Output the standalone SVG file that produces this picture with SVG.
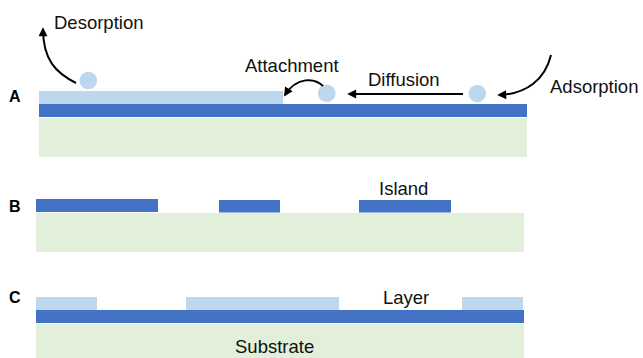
<svg xmlns="http://www.w3.org/2000/svg" width="643" height="358" viewBox="0 0 643 358">
<style>
.dark{fill:#4472C4}
.light{fill:#BDD7EE}
.sub{fill:#E2EFDA}
.atom{fill:#BDD7EE}
.lbl{font-family:"Liberation Sans",Arial,sans-serif;font-size:18.5px;fill:#111}
.pl{font-family:"Liberation Sans",Arial,sans-serif;font-size:16px;font-weight:bold;fill:#000}
.arr{fill:none;stroke:#000;stroke-width:2;marker-end:url(#ah)}
</style>
<defs>
<marker id="ah" viewBox="0 0 10 10" refX="8" refY="5" markerWidth="10" markerHeight="9" markerUnits="userSpaceOnUse" orient="auto">
<path d="M0 0 L10 5 L0 10 z" fill="#000"/>
</marker>
</defs>
<rect width="643" height="358" fill="#fff"/>
<g id="panelA">
<text class="pl" x="9" y="102">A</text>
<rect class="sub" x="39" y="118" width="488" height="39"/>
<rect class="dark" x="39" y="104" width="488" height="13"/>
<rect class="light" x="39" y="91" width="244" height="13"/>
</g>
<g id="atom1"><circle class="atom" cx="88.3" cy="80.5" r="8.8"/></g>
<g id="atom2"><circle class="atom" cx="326.7" cy="93.3" r="8.8"/></g>
<g id="atom3"><circle class="atom" cx="477.3" cy="93.6" r="8.8"/></g>
<g id="labelsA">
<text class="lbl" x="54" y="29">Desorption</text>
<text class="lbl" x="245" y="72">Attachment</text>
<text class="lbl" x="368" y="86">Diffusion</text>
<text class="lbl" x="550" y="92.5">Adsorption</text>
</g>
<g id="connectors">
<path class="arr" d="M76 83 C56 73, 43 60, 43 29"/>
<path class="arr" d="M323 86 C315 78, 297 76, 285 95"/>
<path class="arr" d="M463 94 L349 94"/>
<path class="arr" d="M551 55 C545 80, 526 94, 499 95"/>
</g>
<g id="panelB">
<text class="pl" x="9" y="212">B</text>
<rect class="sub" x="36" y="213" width="488" height="39"/>
<rect class="dark" x="36" y="199" width="122" height="13"/>
<rect class="dark" x="219" y="200" width="61" height="12.5"/>
<rect class="dark" x="359" y="200" width="92" height="12.5"/>
<text class="lbl" x="379" y="195">Island</text>
</g>
<g id="panelC">
<text class="pl" x="9" y="303">C</text>
<rect class="sub" x="36" y="324" width="488" height="34"/>
<rect class="dark" x="36" y="310" width="488" height="13"/>
<rect class="light" x="36" y="297" width="61" height="13"/>
<rect class="light" x="186" y="297" width="153" height="13"/>
<rect class="light" x="462" y="297" width="61" height="13"/>
<text class="lbl" x="383" y="304">Layer</text>
<text class="lbl" x="235" y="352.5">Substrate</text>
</g>
</svg>
